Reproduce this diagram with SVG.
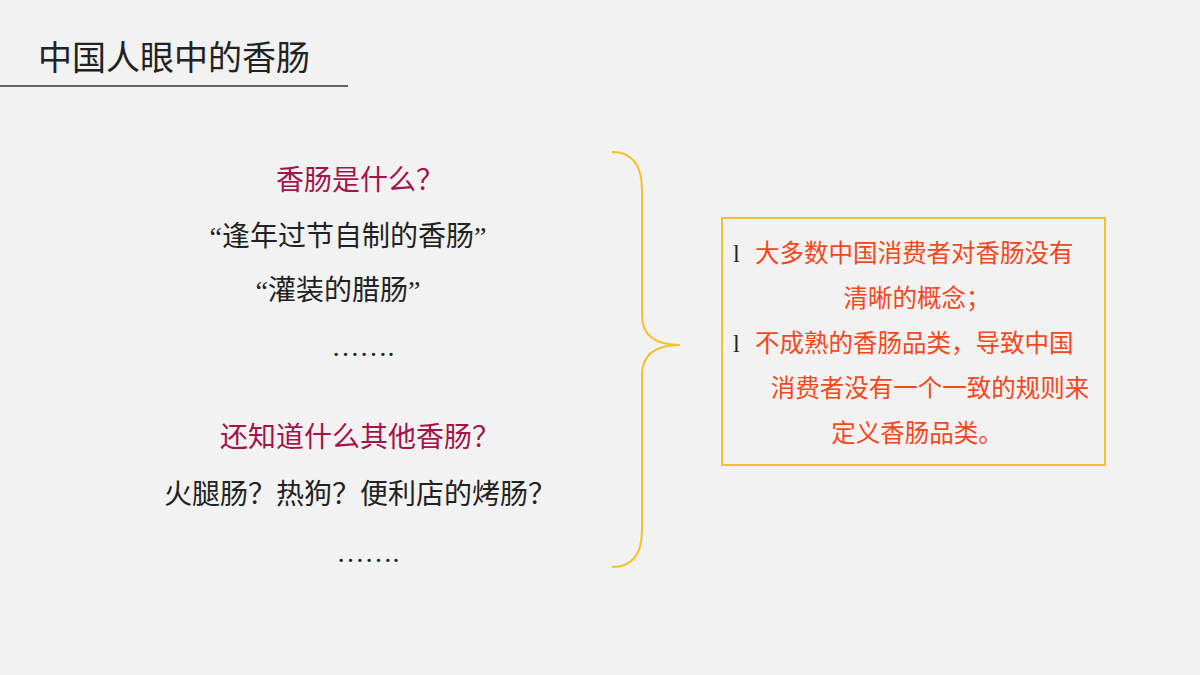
<svg xmlns="http://www.w3.org/2000/svg" width="1200" height="675" viewBox="0 0 1200 675">
<style>
text{font-family:"Liberation Serif","Noto Sans CJK SC",serif}
.t{font-size:34px;fill:#222}
.q{font-size:28px;fill:#a3154a;text-anchor:middle}
.b{font-size:28px;fill:#222;text-anchor:middle}
.r{font-size:24.5px;fill:#f5471b}
.c{text-anchor:middle}
</style>
<rect width="1200" height="675" fill="#f2f2f2"/>
<g id="title"><text class="t" x="38" y="70">中国人眼中的香肠</text>
<line x1="0" y1="86" x2="348" y2="86" stroke="#333" stroke-width="1.5"/></g>
<g id="left">
<text class="q" x="360" y="190">香肠是什么？</text>
<text class="b" x="348" y="246">“逢年过节自制的香肠”</text>
<text class="b" x="338" y="300">“灌装的腊肠”</text>
<text class="b" x="363" y="356">…….</text>
<text class="q" x="360" y="447">还知道什么其他香肠？</text>
<text class="b" x="360" y="504">火腿肠？热狗？便利店的烤肠？</text>
<text class="b" x="368" y="562">…….</text>
</g>
<g id="connectors"><path d="M612,152 Q642,152 642,190 L642,315 Q642,345 680,345 Q642,345 642,375 L642,530 Q642,567 612,567" fill="none" stroke="#f2c12e" stroke-width="2"/></g>
<g id="box"><rect x="722" y="218" width="383" height="247" fill="none" stroke="#f2c12e" stroke-width="2"/>
<text class="r" x="733" y="262" style="fill:#222">l</text>
<text class="r" x="755" y="262">大多数中国消费者对香肠没有</text>
<text class="r c" x="917" y="307">清晰的概念；</text>
<text class="r" x="733" y="352" style="fill:#222">l</text>
<text class="r" x="755" y="352">不成熟的香肠品类，导致中国</text>
<text class="r c" x="930" y="397">消费者没有一个一致的规则来</text>
<text class="r c" x="917" y="442">定义香肠品类。</text>
</g>
</svg>
